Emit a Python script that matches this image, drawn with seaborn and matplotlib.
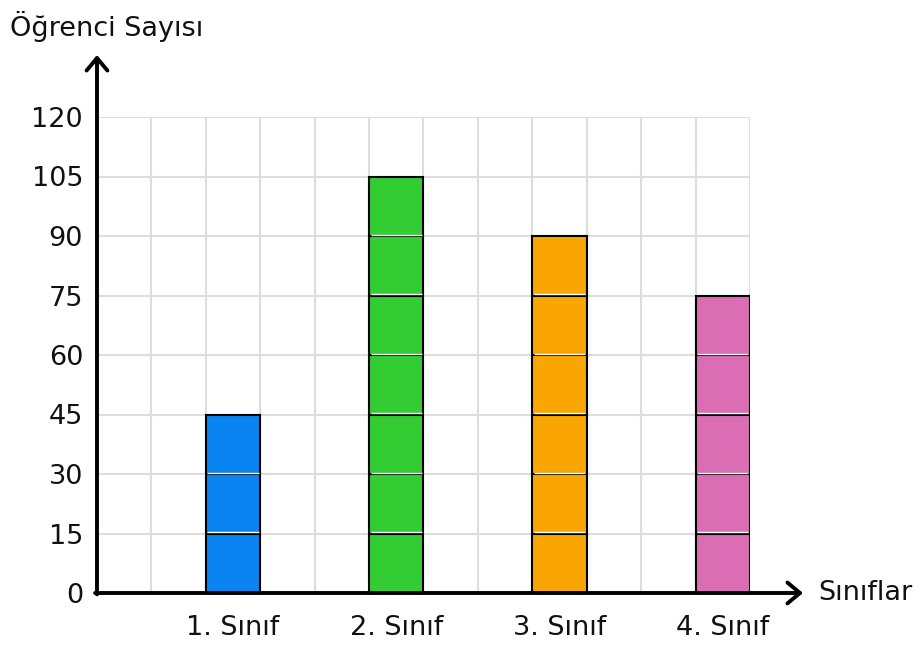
import numpy as np
import pandas as pd
import matplotlib
matplotlib.use("Agg")
import matplotlib.pyplot as plt
import seaborn as sns

# veriler
siniflar = ["1. Sınıf", "2. Sınıf", "3. Sınıf", "4. Sınıf"]
ogrenci = [45, 105, 90, 75]
renkler = ["#0A84F0", "#33CC33", "#F9A602", "#DA6DB4"]
konum = [2.5, 5.5, 8.5, 11.5]   # sütun ortaları (ızgara birimi)
y_ticks = [0, 15, 30, 45, 60, 75, 90, 105, 120]
adim = 15

sns.set_style("white")
plt.rcParams["font.family"] = ["DejaVu Sans"]

df = pd.DataFrame({"konum": konum, "ogrenci": ogrenci, "sinif": siniflar})

fig = plt.figure(figsize=(9.2, 6.48), dpi=100)
ax = fig.add_axes([97 / 920, 1 - 593 / 648, 653 / 920, 476 / 648])

# ızgara
for xv in range(0, 13):
    ax.axvline(xv, color="#dddddd", lw=1.5, zorder=0)
for yv in y_ticks:
    ax.axhline(yv, color="#dddddd", lw=1.5, zorder=0)

sns.barplot(data=df, x="konum", y="ogrenci", hue="sinif", palette=renkler,
            native_scale=True, width=1 / 3, edgecolor="black", linewidth=1.5,
            legend=False, saturation=1, dodge=False, ax=ax, zorder=2)

# 15'lik dilim çizgileri
for xc, v in zip(konum, ogrenci):
    for k in range(adim, v, adim):
        ax.plot([xc - 0.5, xc + 0.5], [k, k], color="black", lw=1.5, zorder=3,
                solid_capstyle="butt")
        ax.plot([xc - 0.47, xc + 0.47], [k + 0.35, k + 0.35], color="white",
                lw=1.0, zorder=3, solid_capstyle="butt")

ax.set_xlim(0, 12)
ax.set_ylim(0, 120)
ax.set_xticks(konum)
ax.set_xticklabels(siniflar)
ax.set_yticks(y_ticks)
ax.tick_params(axis="both", length=0, labelsize=19.5, colors="#111111")
ax.tick_params(axis="y", pad=10)
ax.tick_params(axis="x", pad=16)
ax.set_xlabel("")
ax.set_ylabel("")
for s in ax.spines.values():
    s.set_visible(False)

# eksen okları
ok = dict(arrowstyle="->,head_length=0.9,head_width=0.75", color="black",
          lw=2.8, shrinkA=0, shrinkB=0)
ax.annotate("", xy=(0, (593 - 55) / 476), xytext=(0, -0.003),
            xycoords="axes fraction", arrowprops=ok, annotation_clip=False)
ax.annotate("", xy=((803 - 97) / 653, 0), xytext=(-0.003, 0),
            xycoords="axes fraction", arrowprops=ok, annotation_clip=False)

fig.text(10 / 920, 1 - 27 / 648, "Öğrenci Sayısı", fontsize=19.5,
         ha="left", va="center", color="#111111")
fig.text(818 / 920, 1 - 593 / 648, "Sınıflar", fontsize=19.5,
         ha="left", va="center", color="#111111")

fig.savefig("out.png", dpi=100)
